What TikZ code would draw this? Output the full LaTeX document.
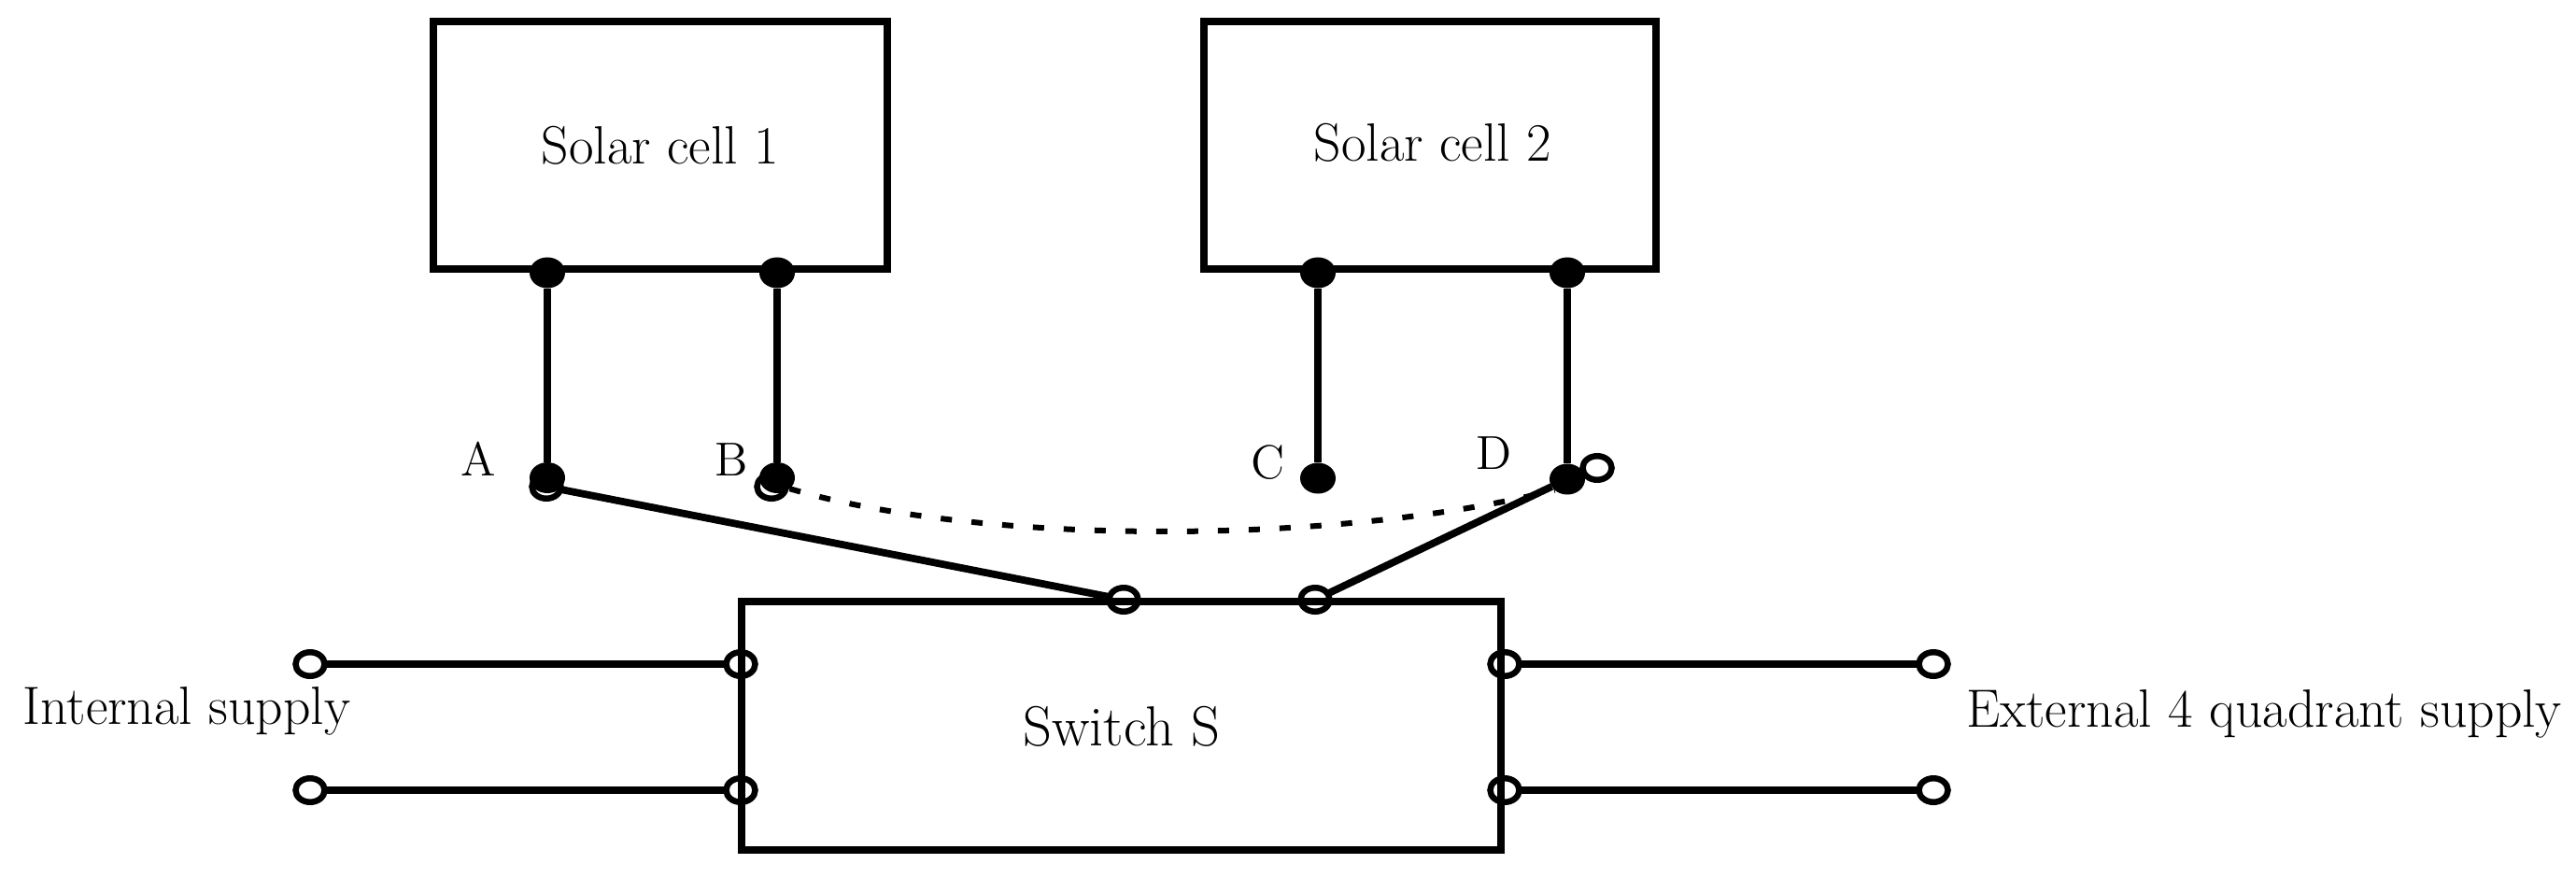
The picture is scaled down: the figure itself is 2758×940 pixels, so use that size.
\documentclass[tikz,border=0pt]{standalone}
\usepackage{amsmath}
\usetikzlibrary{shapes.geometric,calc}
\tikzset{
    wire/.style={line width=0.078cm},
    unitbox/.style={draw,line width=0.08cm,inner sep=0,outer sep=0},
    blackdot/.style={ellipse,fill=black,inner sep=0,outer sep=0,minimum width=0.38cm,minimum height=0.33cm},
    opendot/.style={ellipse,draw,line width=0.065cm,inner sep=0,outer sep=0,minimum width=0.31cm,minimum height=0.255cm},
    caption/.style={anchor=base,inner sep=0,font=\fontsize{16.4}{18}\selectfont},
    letter/.style={anchor=base,inner sep=0,font=\fontsize{14.5}{18}\selectfont}
}
\begin{document}
\begin{tikzpicture}[x=0.01cm,y=-0.01cm]
    \useasboundingbox (0,0) rectangle (2758,940);
    \node[unitbox,minimum width=4.86cm,minimum height=2.65cm] (cellone) at (707,155.5) {};
    \node[unitbox,minimum width=4.84cm,minimum height=2.65cm] (celltwo) at (1531,155.5) {};
    \node[unitbox,minimum width=8.13cm,minimum height=2.65cm] (switch) at (1200.5,777) {};
    \node[caption] (celloneT) at (707,176) {Solar cell 1};
    \node[caption] (celltwoT) at (1534,173) {Solar cell 2};
    \node[caption,font=\fontsize{17.2}{18}\selectfont] (switchT) at (1201,798) {Switch S};
    \node[caption] (intT) at (200,775) {Internal supply};
    \node[caption] (extT) at (2424,778) {External 4 quadrant supply};
    \node[letter] (labA) at (512,509) {A};
    \node[letter] (labB) at (783,509) {B};
    \node[letter] (labC) at (1358,512) {C};
    \node[letter] (labD) at (1600,502) {D};
    \node[blackdot] (topa) at (586,292) {};
    \node[blackdot] (topb) at (832,292) {};
    \node[blackdot] (topc) at (1411,292) {};
    \node[blackdot] (topd) at (1678,292) {};
    \node[blackdot] (a) at (586,511.5) {};
    \node[blackdot] (b) at (832,511.5) {};
    \node[blackdot] (c) at (1411,512) {};
    \node[blackdot] (d) at (1678,513) {};
    \node[opendot] (opena) at (585,521) {};
    \node[opendot] (openb) at (826,521) {};
    \node[opendot] (opend) at (1710,501) {};
    \node[opendot] (swa) at (1203,642) {};
    \node[opendot] (swb) at (1408,642) {};
    \node[opendot] (intin) at (332,711) {};
    \node[opendot] (intout) at (793,711) {};
    \node[opendot] (intinb) at (332,846) {};
    \node[opendot] (intoutb) at (793,846) {};
    \node[opendot] (extin) at (1611,711) {};
    \node[opendot] (extout) at (2070,711) {};
    \node[opendot] (extinb) at (1611,846) {};
    \node[opendot] (extoutb) at (2070,846) {};
    \draw[wire] (topa) -- (a);
    \draw[wire] (topb) -- (b);
    \draw[wire] (topc) -- (c);
    \draw[wire] (topd) -- (d);
    \draw[wire] (opena) -- (swa);
    \draw[wire] (swb) -- (d);
    \draw[wire] (intin) -- (intout);
    \draw[wire] (intinb) -- (intoutb);
    \draw[wire] (extin) -- (extout);
    \draw[wire] (extinb) -- (extoutb);
    \draw[line width=0.06cm,dash pattern=on 0.12cm off 0.21cm] (b.south east) .. controls (1050,584) and (1430,584) .. (d.south west);
\end{tikzpicture}
\end{document}
